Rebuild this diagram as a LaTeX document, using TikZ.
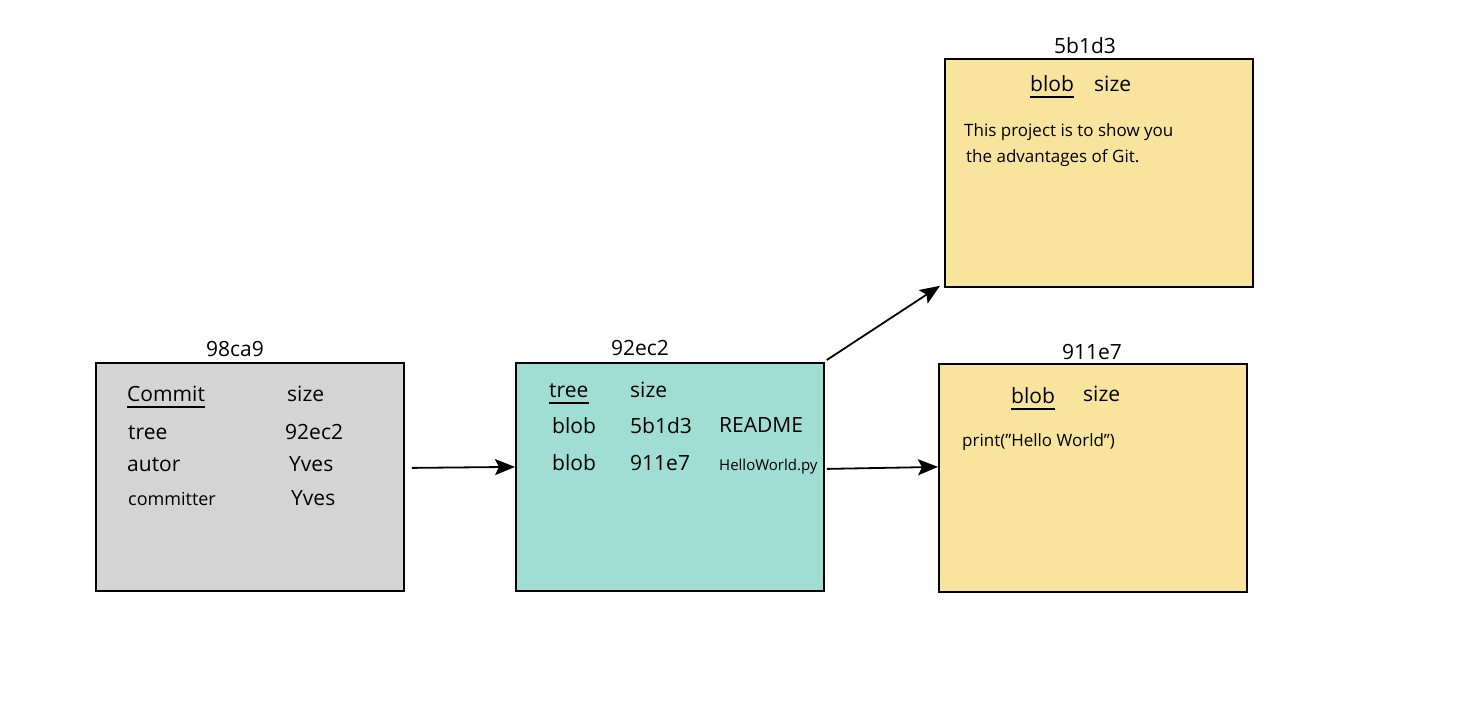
\documentclass[tikz,border=0pt]{standalone}
\usepackage{fontspec}
\setmainfont{Open Sans}
\usetikzlibrary{arrows.meta}
\definecolor{cgray}{HTML}{D4D4D4}
\definecolor{cteal}{HTML}{A0DED4}
\definecolor{cyellow}{HTML}{F8E49C}
\begin{document}
\begin{tikzpicture}[x=1pt,y=-1pt,
  objbox/.style={draw=black, line width=1.8pt, rectangle, minimum width=308pt, minimum height=228pt, anchor=north west, inner sep=0pt},
  hand/.style={font=\fontsize{21}{24}\selectfont, anchor=base west, inner sep=0pt},
  small/.style={font=\fontsize{15}{18}\selectfont, anchor=base west, inner sep=0pt},
  mid/.style={font=\fontsize{18}{21}\selectfont, anchor=base west, inner sep=0pt},
  tiny/.style={font=\fontsize{17}{20}\selectfont, anchor=base west, inner sep=0pt},
  title/.style={font=\fontsize{21}{23}\selectfont, anchor=base, inner sep=0pt},
  uline/.style={line width=1.8pt},
  arr/.style={line width=1.8pt, -{Stealth[length=20pt,width=16pt,inset=4pt]}}]
\useasboundingbox (0,0) rectangle (1480,701);
% boxes
\node[objbox, fill=cgray] (commit) at (95,362) {};
\node[objbox, fill=cteal] (tree) at (515,362) {};
\node[objbox, fill=cyellow] (blobA) at (944,58) {};
\node[objbox, fill=cyellow] (blobB) at (938,363) {};
% titles
\node[title] (tc) at (235,356) {98ca9};
\node[title] (tt) at (640,355) {92ec2};
\node[title] (ta) at (1085,54) {5b1d3};
\node[title] (tb) at (1092,359) {911e7};
% commit content
\node[hand] (c1) at (127,401) {Commit};
\node[hand] (c2) at (287,401) {size};
\node[hand] (c3) at (128,439) {tree};
\node[hand] (c4) at (285,439) {92ec2};
\node[hand] (c5) at (127,471) {autor};
\node[hand] (c6) at (289,471) {Yves};
\node[mid] (c7) at (128,505) {committer};
\node[hand] (c8) at (291,505) {Yves};
\draw[uline] ([yshift=-6pt]c1.base west) -- ([yshift=-6pt]c1.base east);
% tree content
\node[hand] (t1) at (549,397) {tree};
\node[hand] (t2) at (630,397) {size};
\node[hand] (t3) at (552,433) {blob};
\node[hand] (t4) at (630,433) {5b1d3};
\node[hand] (t5) at (719,432) {README};
\node[hand] (t6) at (552,470) {blob};
\node[hand] (t7) at (630,470) {911e7};
\node[small] (t8) at (719,470) {HelloWorld.py};
\draw[uline] ([yshift=-6pt]t1.base west) -- ([yshift=-6pt]t1.base east);
% blob A content
\node[hand] (a1) at (1030,91) {blob};
\node[hand] (a2) at (1094,91) {size};
\draw[uline] ([yshift=-6pt]a1.base west) -- ([yshift=-6pt]a1.base east);
\node[tiny] (a3) at (964,136) {This project is to show you};
\node[tiny] (a4) at (966,162) {the advantages of Git.};
% blob B content
\node[hand] (b1) at (1011,403) {blob};
\node[hand] (b2) at (1083,401) {size};
\draw[uline] ([yshift=-6pt]b1.base west) -- ([yshift=-6pt]b1.base east);
\node[tiny] (b3) at (962,446) {print("Hello World")};
% connectors
\draw[arr] ([xshift=7pt,yshift=9pt]commit.east) -- ([yshift=10pt]tree.west);
\draw[arr] ([xshift=2pt,yshift=8pt]tree.east) -- ([yshift=11pt]blobB.west);
\draw[arr] ([xshift=2pt,yshift=2pt]tree.north east) -- ([xshift=-4pt,yshift=2pt]blobA.south west);
\end{tikzpicture}
\end{document}
